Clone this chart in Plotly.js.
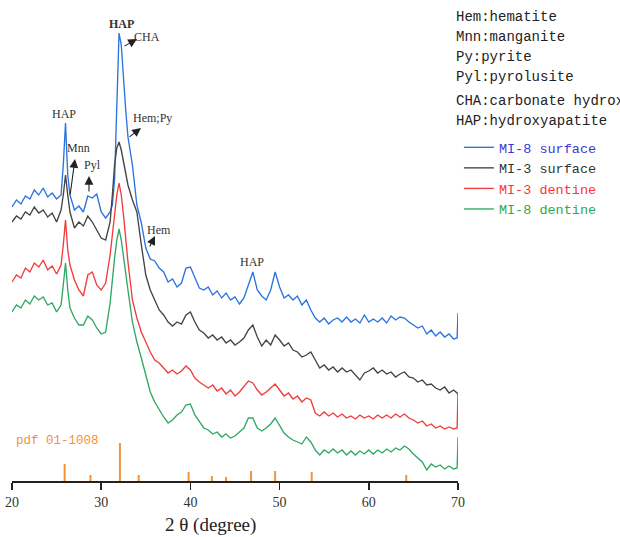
<!DOCTYPE html>
<html>
<head>
<meta charset="utf-8">
<script src="https://cdn.plot.ly/plotly-3.0.1.min.js"></script>
<style>html,body{margin:0;padding:0;background:#fff;}#chart{width:620px;height:537px;}</style>
</head>
<body>
<div id="chart"></div>
<script>
// 2-theta grid (degrees)
const twoTheta = [20,20.5,21,21.5,22,22.5,23,23.5,24,24.5,25,25.5,
  25.75,26,26.25,26.5,
  27,27.5,28,28.5,29,29.5,30,30.5,31,
  31.25,31.5,31.75,32,32.25,32.5,32.75,33,
  33.5,34,34.5,35,35.5,36,36.5,37,37.5,38,38.5,39,39.5,40,40.5,41,41.5,42,42.5,43,43.5,44,44.5,45,45.5,46,46.5,47,47.5,48,48.5,49,49.5,50,50.5,51,51.5,52,52.5,53,53.5,54,54.5,55,55.5,56,56.5,57,57.5,58,58.5,59,59.5,60,60.5,61,61.5,62,62.5,63,63.5,64,64.5,65,65.5,66,66.5,67,67.5,68,68.5,69,69.5,
  69.9,70];

// intensities (arbitrary units, stacked with offsets)
const mi8Surface = [274,281,277,285,282,291,286,293,284,288,282,286,
  316,358,306,286,
  271,275,269,285,283,287,269,263,269,
  276,301,371,448,436,401,371,344,
  316,276,258,233,222,220,213,209,199,202,194,198,213,214,203,193,191,194,186,190,183,188,181,184,177,183,196,209,191,185,181,191,209,194,183,186,181,185,176,181,171,163,159,163,157,161,163,159,164,159,162,158,166,159,162,159,163,158,165,161,164,163,159,156,153,155,147,151,145,149,144,147,142,
  143,168];

const mi3Surface = [259,265,262,269,266,274,268,271,264,268,259,271,
  286,306,286,269,
  253,259,255,265,259,251,243,241,259,
  286,316,333,339,331,318,306,296,
  281,269,236,206,191,181,171,166,159,155,159,157,166,169,159,151,148,143,146,141,144,138,141,136,139,143,151,156,144,135,141,136,146,141,135,138,131,129,124,126,129,121,113,116,111,114,109,113,109,111,106,101,108,110,113,108,111,107,109,104,107,109,104,103,99,101,96,97,93,91,94,88,91,
  88,86];

const mi3Dentine = [199,206,203,213,209,218,214,221,211,215,207,216,
  236,261,231,216,
  201,191,185,206,209,196,191,198,226,
  246,266,286,298,286,266,241,219,
  181,163,149,139,129,121,118,113,108,111,107,110,115,111,103,99,96,93,96,90,93,87,91,85,89,94,100,98,91,86,89,93,97,91,85,88,82,85,79,83,81,68,65,69,65,68,64,67,63,65,62,66,63,65,62,66,63,66,63,67,64,67,63,61,58,60,55,57,53,55,52,54,52,
  53,88];

const mi8Dentine = [169,176,173,181,177,185,181,184,176,178,169,176,
  196,218,191,173,
  163,156,156,165,161,153,147,149,178,
  203,223,241,252,241,223,206,191,
  159,139,123,106,89,79,71,64,58,61,66,69,76,77,66,59,53,51,47,49,44,47,43,45,49,53,63,63,53,50,53,57,63,55,48,44,41,39,37,44,39,31,26,31,28,32,28,31,26,30,26,30,27,31,27,31,28,32,29,33,31,35,32,27,23,19,11,17,14,16,12,15,12,
  13,44];

// reference pattern pdf 01-1008
const pdfPos = [25.9,28.8,32.1,34.2,39.8,42.4,44.0,46.8,49.5,53.6,64.2];
const pdfInt = [17,6,38,6,9,5,4,10,10,9,6];

const seriesNames = ['MI-8 surface','MI-3 surface','MI-3 dentine','MI-8 dentine'];
const lineColors = ['#2a74e0','#444444','#f03c3c','#2fa865'];
const textColors = ['#3a3ad0','#333333','#ff3333','#2eaa4a'];
const seriesData = [mi8Surface, mi3Surface, mi3Dentine, mi8Dentine];

const phaseKey = ['Hem:hematite','Mnn:manganite','Py:pyrite','Pyl:pyrolusite','CHA:carbonate hydroxyapatite','HAP:hydroxyapatite'];

const traces = seriesData.map((d,i)=>({
  type:'scatter', mode:'lines', x: twoTheta, y: d,
  name: '<span style="color:'+textColors[i]+'">'+seriesNames[i]+'</span>',
  line:{color: lineColors[i], width:1.35},
  hoverinfo:'skip'
}));
traces.push({
  type:'bar', x: pdfPos, y: pdfInt, width: 0.22,
  marker:{color:'#f39234'}, showlegend:false, hoverinfo:'skip'
});

const labelFont = {family:'Liberation Serif, serif', size:12, color:'#333'};
const annotations = [];
function label(t, x, y){ annotations.push({text:t, x:x, y:y, xref:'x', yref:'y', showarrow:false, font:labelFont}); }
function arrow(x, y, ax, ay){ annotations.push({text:'', x:x, y:y, xref:'x', yref:'y', ax:ax, ay:ay, showarrow:true, arrowhead:2, arrowsize:1.6, arrowwidth:1.1, arrowcolor:'#222', standoff:0, startstandoff:0}); }

label('HAP', 25.83, 367);
label('<b>HAP</b>', 32.33, 457);
label('CHA', 35.13, 444);
label('Hem;Py', 35.7, 363);
label('Mnn', 27.4, 333);
label('Pyl', 29.08, 316);
label('Hem', 36.48, 251);
label('HAP', 46.9, 219);

arrow(34.01, 442, -14, 8);
arrow(34.46, 353, -13, 10);
arrow(27.06, 322, -5, 37);
arrow(28.63, 305, 0, 17);
arrow(36.03, 245, -6, 12);

const keyY = [0.9647,0.923,0.8815,0.84,0.79,0.7484];
phaseKey.forEach((t,i)=>annotations.push({text:t, xref:'paper', yref:'paper', x:0.991, y:keyY[i], xanchor:'left', yanchor:'middle', showarrow:false, font:{family:'Liberation Mono, monospace', size:14, color:'#222'}}));

annotations.push({text:'pdf 01-1008', xref:'x', yref:'y', x:20.2, y:40, xanchor:'left', yanchor:'middle', showarrow:false, font:{family:'Liberation Mono, monospace', size:12.5, color:'#f39234'}});
annotations.push({text:'2 θ (degree)', xref:'paper', yref:'paper', x:0.446, y:-0.0915, xanchor:'center', yanchor:'middle', showarrow:false, font:{family:'Liberation Serif, serif', size:19, color:'#222'}});

const layout = {
  width:620, height:537,
  margin:{l:12, r:162, t:0, b:56, autoexpand:false},
  paper_bgcolor:'#fff', plot_bgcolor:'#fff',
  showlegend:true,
  legend:{x:1.002, xanchor:'left', y:0.7255, yanchor:'top', bgcolor:'rgba(0,0,0,0)', borderwidth:0,
    font:{family:'Liberation Mono, monospace', size:13.5, color:'#333'}, traceorder:'normal'},
  xaxis:{range:[20,70], tickvals:[20,30,40,50,60,70], ticks:'outside', ticklen:7, tickwidth:1.5, tickcolor:'#222',
    showline:true, linecolor:'#222', linewidth:2, showgrid:false, zeroline:false,
    tickfont:{family:'Liberation Serif, serif', size:14, color:'#333'}},
  yaxis:{range:[0,481], visible:false, showgrid:false, zeroline:false},
  annotations: annotations
};

Plotly.newPlot('chart', traces, layout, {displayModeBar:false, staticPlot:true});
</script>
</body>
</html>
